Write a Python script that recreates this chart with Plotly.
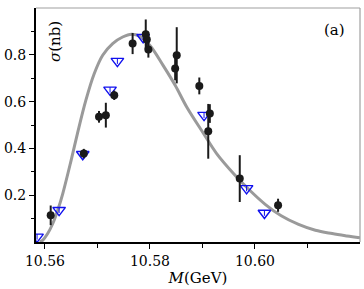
import plotly.graph_objects as go

# Fit curve
curve_x = [10.5590, 10.5596, 10.5605, 10.5615, 10.5625, 10.5634, 10.5650, 10.5662,
           10.5678, 10.5694, 10.5710, 10.5729, 10.5748, 10.5765, 10.5780, 10.5800,
           10.5825, 10.5848, 10.5870, 10.5902, 10.5927, 10.5959, 10.5990, 10.6020,
           10.6050, 10.6083, 10.6115, 10.6147, 10.6175, 10.6200]
curve_y = [0.000, 0.008, 0.035, 0.079, 0.140, 0.207, 0.350, 0.464,
           0.606, 0.720, 0.798, 0.848, 0.876, 0.888, 0.880, 0.840,
           0.755, 0.670, 0.577, 0.464, 0.378, 0.293, 0.221, 0.160,
           0.112, 0.075, 0.050, 0.036, 0.026, 0.018]

# Black data points with errors
dat_x = [10.5611, 10.5674, 10.5703, 10.5716, 10.5732, 10.5767, 10.5792, 10.5794,
         10.5797, 10.5848, 10.5851, 10.5894, 10.5911, 10.5914, 10.5971, 10.6044]
dat_y = [0.114, 0.378, 0.535, 0.542, 0.627, 0.848, 0.888, 0.865,
         0.823, 0.741, 0.798, 0.667, 0.473, 0.549, 0.271, 0.157]
dat_err = [0.042, 0.020, 0.025, 0.053, 0.020, 0.045, 0.063, 0.030,
           0.035, 0.050, 0.120, 0.036, 0.117, 0.040, 0.100, 0.028]

# Blue open triangles
tri_x = [10.5585, 10.5627, 10.5672, 10.5724, 10.5738, 10.5787, 10.5903, 10.5984, 10.6018]
tri_y = [0.022, 0.136, 0.375, 0.650, 0.773, 0.875, 0.542, 0.229, 0.124]
tri_err = [0.012] * 9

x_ticks = [10.56, 10.58, 10.60]
x_ticktext = ["10.56", "10.58", "10.60"]
y_ticks = [0.2, 0.4, 0.6, 0.8]
y_ticktext = ["0.2", "0.4", "0.6", "0.8"]

FONT = "DejaVu Serif, Liberation Serif, serif"

fig = go.Figure()
fig.add_trace(go.Scatter(x=curve_x, y=curve_y, mode="lines",
                         line=dict(color="#9a9a9a", width=3, shape="spline"),
                         hoverinfo="skip"))
fig.add_trace(go.Scatter(x=tri_x, y=tri_y, mode="markers",
                         marker=dict(symbol="triangle-down-open", size=11,
                                     color="#1010ee", line=dict(width=1.4, color="#1010ee")),
                         error_y=dict(type="data", array=tri_err, visible=True,
                                      color="#1010ee", thickness=1, width=0)))
fig.add_trace(go.Scatter(x=dat_x, y=dat_y, mode="markers",
                         marker=dict(symbol="circle", size=8, color="#1a1a1a"),
                         error_y=dict(type="data", array=dat_err, visible=True,
                                      color="#1a1a1a", thickness=2, width=0)))

fig.update_layout(
    width=364, height=289,
    margin=dict(l=36, r=4, t=8, b=47),
    paper_bgcolor="white", plot_bgcolor="white",
    showlegend=False,
    font=dict(family=FONT, size=14, color="black"),
    xaxis=dict(range=[10.5583, 10.62], tickvals=x_ticks, ticktext=x_ticktext,
               ticks="outside", ticklen=5, tickwidth=1, tickcolor="black",
               showline=True, linecolor="black", linewidth=2, mirror=False,
               showgrid=False, zeroline=False,
               minor=dict(tickvals=[10.57, 10.59, 10.61], ticks="outside",
                          ticklen=4, tickcolor="black", showgrid=False),
               title=dict(text="<i>M</i>(GeV)", font=dict(family=FONT, size=15),
                          standoff=2)),
    yaxis=dict(range=[0, 1.0], tickvals=y_ticks, ticktext=y_ticktext,
               ticks="outside", ticklen=5, tickwidth=1, tickcolor="black",
               showline=True, linecolor="black", linewidth=2, mirror=False,
               showgrid=False, zeroline=False,
               minor=dict(tickvals=[0.1, 0.3, 0.5, 0.7, 0.9], ticks="outside",
                          ticklen=3, tickcolor="black", showgrid=False)),
    shapes=[
        dict(type="line", xref="paper", yref="paper", x0=0, x1=1, y0=1, y1=1,
             line=dict(color="#a0a0a0", width=1.2)),
        dict(type="line", xref="paper", yref="paper", x0=1, x1=1, y0=0, y1=1,
             line=dict(color="#a0a0a0", width=1.2)),
    ],
    annotations=[
        dict(text="<i>σ</i>(nb)", xref="paper", yref="paper", x=0.059, y=0.855,
             xanchor="center", yanchor="middle",
             textangle=-90, showarrow=False, font=dict(family=FONT, size=15)),
        dict(text="(a)", xref="paper", yref="paper", x=0.92, y=0.906,
             xanchor="center", yanchor="middle",
             showarrow=False, font=dict(family=FONT, size=15)),
    ],
)

fig.write_html("out.html", config={"displayModeBar": False},
               post_script="document.body.style.margin='0';")
